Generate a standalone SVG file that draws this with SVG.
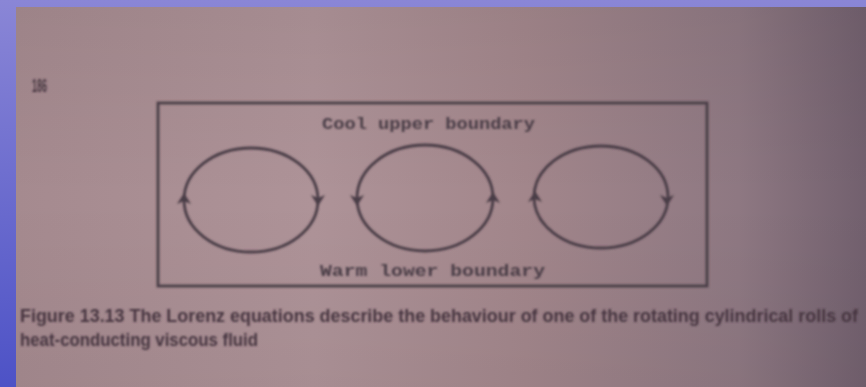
<svg xmlns="http://www.w3.org/2000/svg" width="866" height="387" viewBox="0 0 866 387">
<defs>
<linearGradient id="blue" x1="0" y1="0" x2="0" y2="1">
<stop offset="0" stop-color="#8a86d6"/><stop offset="1" stop-color="#4d52c6"/>
</linearGradient>
<linearGradient id="page" x1="0" y1="0" x2="1" y2="0">
<stop offset="0" stop-color="#a58a8f"/>
<stop offset="0.35" stop-color="#ae9398"/>
<stop offset="0.6" stop-color="#a2868b"/>
<stop offset="0.85" stop-color="#8e7882"/>
<stop offset="1" stop-color="#72606e"/>
</linearGradient>
<linearGradient id="shade" x1="0" y1="0" x2="0" y2="1">
<stop offset="0" stop-color="#000" stop-opacity="0.05"/>
<stop offset="0.5" stop-color="#000" stop-opacity="0"/>
<stop offset="1" stop-color="#000" stop-opacity="0.04"/>
</linearGradient>
<filter id="soft" x="-5%" y="-5%" width="110%" height="110%"><feGaussianBlur stdDeviation="0.8"/></filter>
<path id="up" d="M-7,5 L0,-6 L7,5 L0,2 Z"/>
<path id="down" d="M-7,-5 L0,6 L7,-5 L0,-2 Z"/>
</defs>
<style>
.ln{fill:none;stroke:#4a3c46;stroke-width:2.8}
.ah{fill:#4a3c46}
.lbl{font-family:"Liberation Mono","DejaVu Sans Mono",monospace;font-size:16px;font-weight:bold;fill:#4a3d46}
.cap{font-family:"Liberation Sans","DejaVu Sans",sans-serif;font-size:18px;font-weight:bold;fill:#463640}
</style>
<rect x="0" y="0" width="866" height="387" fill="url(#blue)"/>
<rect x="16" y="7" width="850" height="380" fill="url(#page)"/>
<rect x="16" y="7" width="850" height="380" fill="url(#shade)"/>
<g filter="url(#soft)">
<text x="32" y="92" class="cap" font-size="15" textLength="15" lengthAdjust="spacingAndGlyphs">186</text>
<g id="frame"><rect x="158" y="103" width="549" height="183" class="ln" stroke-width="2.3"/></g>
<g id="top-label"><text x="322" y="129" class="lbl" textLength="213" lengthAdjust="spacingAndGlyphs">Cool upper boundary</text></g>
<g id="bottom-label"><text x="320" y="276" class="lbl" textLength="225" lengthAdjust="spacingAndGlyphs">Warm lower boundary</text></g>
<g id="connectors">
<g id="roll1"><ellipse cx="251" cy="200" rx="67" ry="52" class="ln"/><use href="#up" x="184" y="199" class="ah"/><use href="#down" x="318" y="200" class="ah"/></g>
<g id="roll2"><ellipse cx="425" cy="198" rx="68" ry="53" class="ln"/><use href="#down" x="357" y="200" class="ah"/><use href="#up" x="493" y="198" class="ah"/></g>
<g id="roll3"><ellipse cx="601" cy="197" rx="67" ry="51" class="ln"/><use href="#up" x="535" y="197" class="ah"/><use href="#down" x="667" y="200" class="ah"/></g>
</g>
<g id="caption">
<text x="20" y="322" class="cap" textLength="838" lengthAdjust="spacingAndGlyphs">Figure 13.13 The Lorenz equations describe the behaviour of one of the rotating cylindrical rolls of</text>
<text x="20" y="346" class="cap" textLength="238" lengthAdjust="spacingAndGlyphs">heat-conducting viscous fluid</text>
</g>
</g>
</svg>
